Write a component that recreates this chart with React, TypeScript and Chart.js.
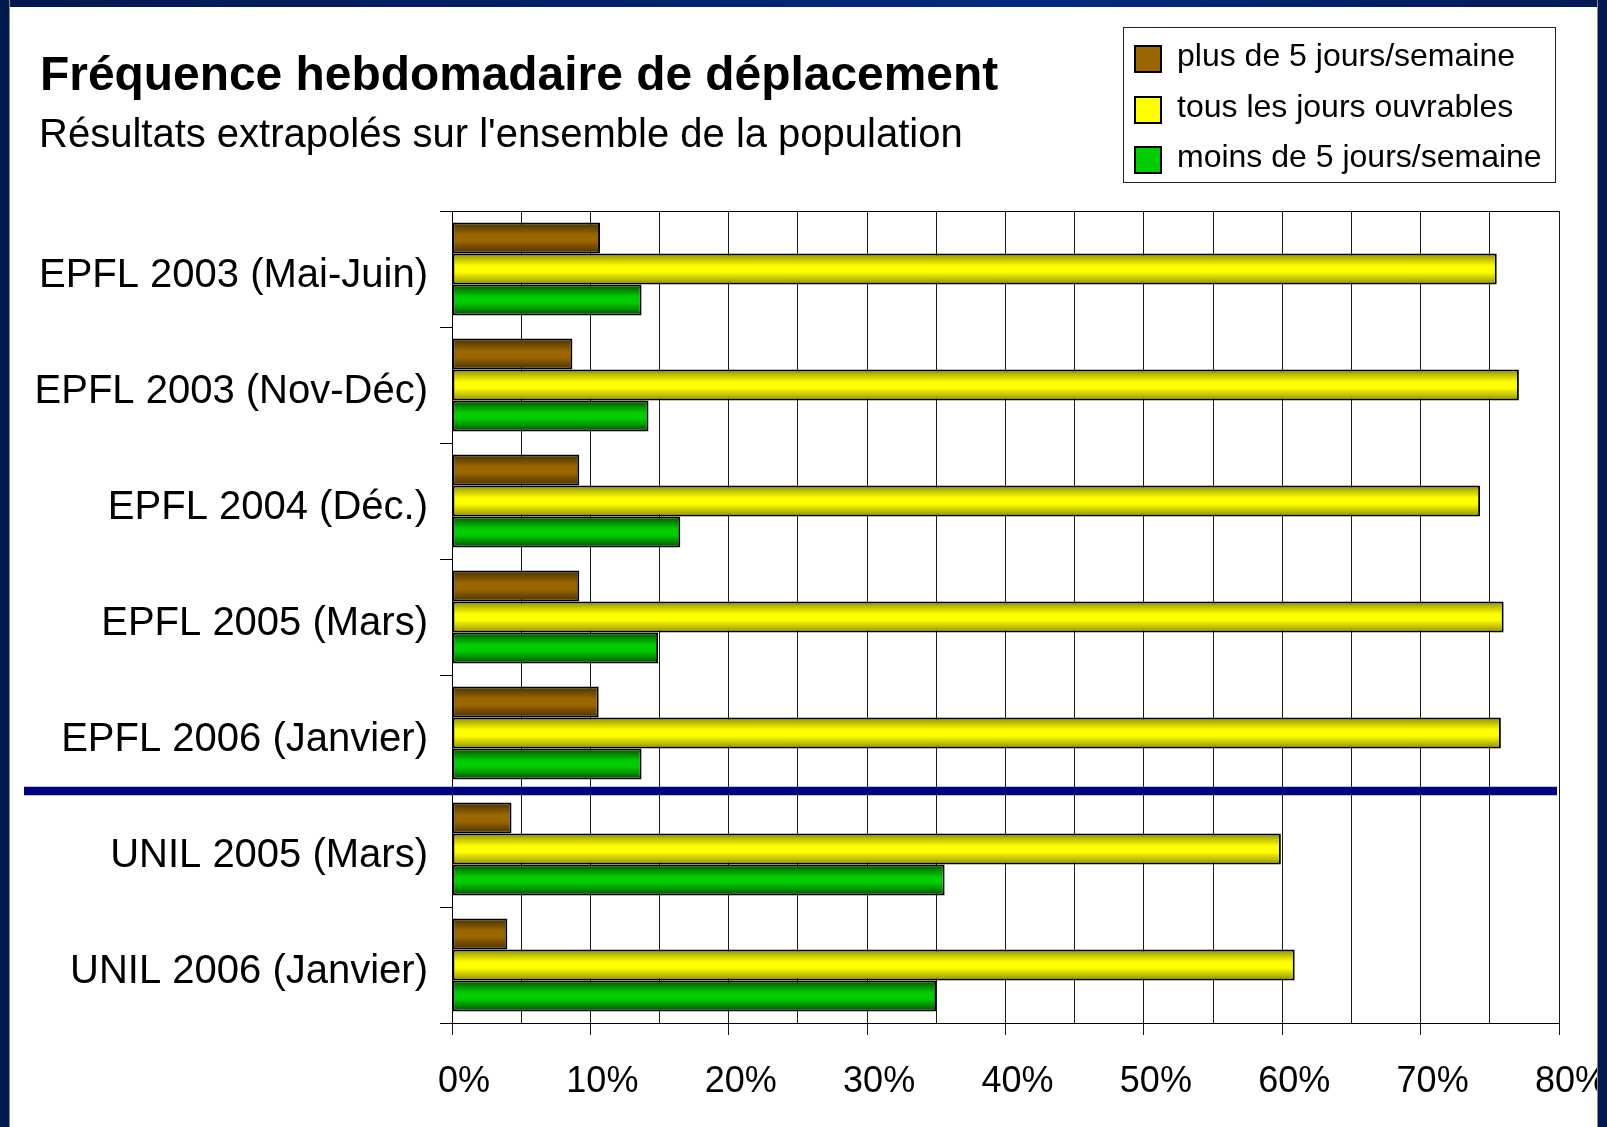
import React, { useEffect, useRef } from 'react';
import { Chart, registerables } from 'chart.js';

Chart.register(...registerables);

const TITLE = 'Fréquence hebdomadaire de déplacement';
const SUBTITLE = "Résultats extrapolés sur l'ensemble de la population";

const CATEGORIES = [
  'EPFL 2003 (Mai-Juin)',
  'EPFL 2003 (Nov-Déc)',
  'EPFL 2004 (Déc.)',
  'EPFL 2005 (Mars)',
  'EPFL 2006 (Janvier)',
  'UNIL 2005 (Mars)',
  'UNIL 2006 (Janvier)',
];

const SERIES_NAMES = [
  'plus de 5 jours/semaine',
  'tous les jours ouvrables',
  'moins de 5 jours/semaine',
];

const PLUS_DE_5 = [10.7, 8.7, 9.2, 9.2, 10.6, 4.3, 4.0];
const TOUS_LES_JOURS = [75.5, 77.1, 74.3, 76.0, 75.8, 59.9, 60.9];
const MOINS_DE_5 = [13.7, 14.2, 16.5, 14.9, 13.7, 35.6, 35.0];

const X_MIN = 0;
const X_MAX = 80;
const X_GRID_STEP = 5;
const X_LABEL_STEP = 10;

// separator drawn after this category index (EPFL / UNIL)
const SEPARATOR_AFTER = 4;

const SERIES_COLORS = ['#996600', '#ffff00', '#00cc00'];
const SERIES_EDGE_COLORS = ['#4a3000', '#8f8f00', '#005000'];

const FONT = '"Liberation Sans", Arial, Helvetica, sans-serif';
const CAT_PCT = 0.8;

function barGradient(ctx: any) {
  const ds = ctx.datasetIndex;
  const solid = SERIES_COLORS[ds] ?? '#999';
  if (ctx.type !== 'data') return solid;
  const chart = ctx.chart;
  const y = chart.scales && chart.scales.y;
  if (!y) return solid;
  const c0 = y.getPixelForValue(0);
  const c1 = y.getPixelForValue(1);
  const center = y.getPixelForValue(ctx.dataIndex);
  const cat = Math.abs(c1 - c0);
  if (!isFinite(center) || !isFinite(cat) || cat <= 0) return solid;
  const n = chart.data.datasets.length;
  const group = cat * CAT_PCT;
  const bh = group / n;
  const top = center - group / 2 + ds * bh;
  const g = chart.ctx.createLinearGradient(0, top, 0, top + bh);
  const edge = SERIES_EDGE_COLORS[ds];
  g.addColorStop(0, edge);
  g.addColorStop(0.4, solid);
  g.addColorStop(0.6, solid);
  g.addColorStop(1, edge);
  return g;
}

const decorPlugin = {
  id: 'decor',
  afterDraw(chart: any) {
    const ctx = chart.ctx;
    const area = chart.chartArea;
    const y = chart.scales.y;
    ctx.save();

    // top frame line of plot
    ctx.strokeStyle = '#000';
    ctx.lineWidth = 1;
    ctx.beginPath();
    ctx.moveTo(area.left, Math.round(area.top) + 0.5);
    ctx.lineTo(area.right, Math.round(area.top) + 0.5);
    ctx.stroke();

    // separator line
    const sy = (y.getPixelForValue(SEPARATOR_AFTER) + y.getPixelForValue(SEPARATOR_AFTER + 1)) / 2;
    ctx.strokeStyle = '#000080';
    ctx.lineWidth = 8.5;
    ctx.beginPath();
    ctx.moveTo(24, sy);
    ctx.lineTo(area.right - 2, sy);
    ctx.stroke();

    // titles
    ctx.fillStyle = '#000';
    ctx.textAlign = 'left';
    ctx.textBaseline = 'alphabetic';
    ctx.font = `bold 47.9px ${FONT}`;
    ctx.fillText(TITLE, 40, 90);
    ctx.font = `40px ${FONT}`;
    ctx.fillText(SUBTITLE, 39, 147);

    // legend box
    ctx.strokeStyle = '#222';
    ctx.lineWidth = 1;
    ctx.strokeRect(1123.5, 27.5, 432, 155);
    const rows = [59, 110, 160];
    ctx.font = `32px ${FONT}`;
    ctx.textBaseline = 'middle';
    chart.data.datasets.forEach((ds: any, i: number) => {
      const cy = rows[i];
      ctx.fillStyle = SERIES_COLORS[i];
      ctx.fillRect(1135, cy - 13, 26, 26);
      ctx.strokeStyle = '#000';
      ctx.lineWidth = 2;
      ctx.strokeRect(1135, cy - 13, 26, 26);
      ctx.fillStyle = '#000';
      ctx.fillText(ds.label, 1177, cy - 2);
    });
    ctx.restore();
  },
};

export default function App() {
  const ref = useRef<HTMLCanvasElement>(null);

  useEffect(() => {
    if (!ref.current) return;
    const series = [PLUS_DE_5, TOUS_LES_JOURS, MOINS_DE_5];
    const chart = new Chart(ref.current, {
      type: 'bar',
      data: {
        labels: CATEGORIES,
        datasets: series.map((d, i) => ({
          label: SERIES_NAMES[i],
          data: d,
          backgroundColor: barGradient,
          borderColor: '#000',
          borderWidth: 2,
          borderSkipped: false,
          categoryPercentage: CAT_PCT,
          barPercentage: 1.0,
        })),
      },
      options: {
        indexAxis: 'y',
        responsive: false,
        animation: false,
        layout: { padding: { left: 0, right: 48, top: 211, bottom: 0 } },
        plugins: {
          legend: { display: false },
          title: { display: false },
          tooltip: { enabled: false },
        },
        scales: {
          x: {
            type: 'linear',
            position: 'bottom',
            min: X_MIN,
            max: X_MAX,
            afterFit: (s: any) => {
              s.height = 104;
              s.paddingRight = 0;
              s.paddingLeft = 0;
            },
            ticks: {
              stepSize: X_GRID_STEP,
              maxTicksLimit: 100,
              autoSkip: false,
              maxRotation: 0,
              labelOffset: 12,
              padding: 25,
              color: '#000',
              font: { family: FONT, size: 36 },
              callback: (v: any) => (Number(v) % X_LABEL_STEP === 0 ? `${v}%` : ''),
            },
            grid: {
              color: '#1a1a1a',
              lineWidth: 1,
              tickLength: 12,
              tickColor: (c: any) =>
                c.tick && c.tick.value % X_LABEL_STEP === 0 ? '#1a1a1a' : 'rgba(0,0,0,0)',
            },
            border: { display: true, color: '#000', width: 1 },
          },
          y: {
            type: 'category',
            offset: true,
            afterFit: (s: any) => {
              s.width = 452;
              s.paddingTop = 0;
              s.paddingBottom = 0;
            },
            grid: {
              offset: true,
              drawOnChartArea: false,
              tickLength: 12,
              color: '#000',
            },
            ticks: {
              padding: 12,
              labelOffset: 7,
              color: '#000',
              font: { family: FONT, size: 40 },
            },
            border: { display: true, color: '#000', width: 1 },
          },
        },
      },
      plugins: [decorPlugin],
    } as any);
    return () => chart.destroy();
  }, []);

  return (
    <div
      style={{
        position: 'fixed',
        left: 0,
        top: 0,
        width: 1607,
        height: 1127,
        background: '#fff',
        overflow: 'hidden',
      }}
    >
      <canvas
        ref={ref}
        width={1607}
        height={1127}
        style={{ position: 'absolute', left: 0, top: 0, width: 1607, height: 1127 }}
      />
      <div
        style={{
          position: 'absolute',
          left: 0,
          top: 0,
          width: 1607,
          height: 7,
          background: 'linear-gradient(90deg, #00184f 0%, #002a80 65%, #001a55 100%)',
        }}
      />
      <div
        style={{
          position: 'absolute',
          left: 0,
          top: 0,
          width: 9,
          height: 1127,
          background: '#001a50',
          borderRight: '1px solid #8a8a8a',
        }}
      />
      <div
        style={{
          position: 'absolute',
          left: 1597,
          top: 0,
          width: 9,
          height: 1127,
          background: '#001a50',
          borderLeft: '1px solid #8a8a8a',
        }}
      />
    </div>
  );
}
